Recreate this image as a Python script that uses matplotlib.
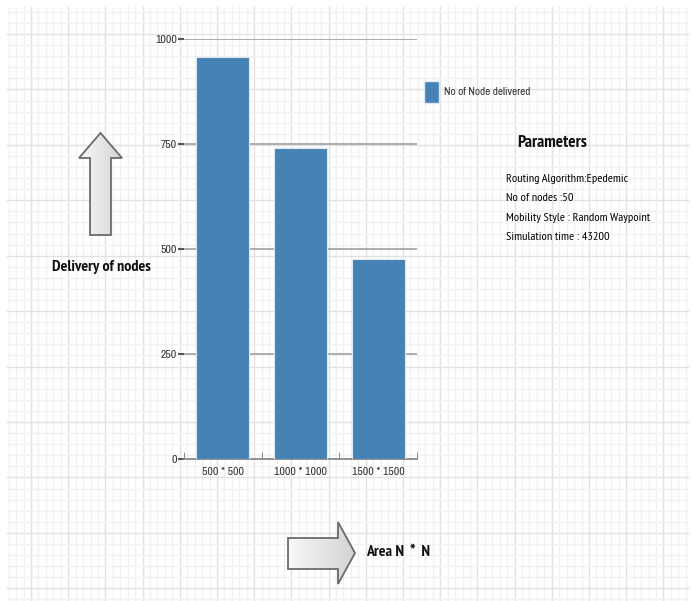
import matplotlib
matplotlib.use('Agg')
import matplotlib.pyplot as plt
from matplotlib.patches import Polygon, Patch
from matplotlib.colors import LinearSegmentedColormap
import numpy as np

areas = ['500 * 500', '1000 * 1000', '1500 * 1500']
delivered = [958, 740, 477]
y_ticks = [0, 250, 500, 750, 1000]
legend_label = 'No of Node delivered'
params_title = 'Parameters'
params = ['Routing Algorithm:Epedemic', 'No of nodes :50',
          'Mobility Style : Random Waypoint', 'Simulation time : 43200']

plt.rcParams['font.family'] = ['Archivo Narrow', 'PT Sans Narrow', 'DejaVu Sans']
BOLD = ['PT Sans Narrow', 'DejaVu Sans']

W, H = 693, 601
fig = plt.figure(figsize=(W / 100, H / 100), dpi=100)

# background paper grid, in pixel coordinates
bg = fig.add_axes([0, 0, 1, 1], zorder=0)
for k in range(-3, 100):
    x = 31 + 7.44 * k
    if 7 <= x <= 688:
        c = '#e2e2e2' if k % 5 == 0 else '#f1f1f1'
        bg.plot([x, x], [7, H], color=c, lw=1, zorder=0)
for k in range(-3, 60):
    y = 34 + 11.086 * k
    if 7 <= y <= H:
        c = '#e2e2e2' if k % 5 == 0 else '#f1f1f1'
        bg.plot([7, 688], [y, y], color=c, lw=1, zorder=0)

grey_cmap = LinearSegmentedColormap.from_list('g', ['#f8f8f8', '#d4d4d4'])


def arrow(pts):
    poly = Polygon(pts, closed=True, facecolor='none', edgecolor='#6b6b6b', lw=1.3, zorder=3)
    bg.add_patch(poly)
    xs = [p[0] for p in pts]
    ys = [p[1] for p in pts]
    grad = np.linspace(0, 1, 100).reshape(1, -1)
    im = bg.imshow(grad, cmap=grey_cmap, extent=[min(xs), max(xs), max(ys), min(ys)],
                   aspect='auto', zorder=2)
    im.set_clip_path(poly)


arrow([(90, 235), (90, 158), (79, 158), (100.5, 133), (122, 158), (111, 158), (111, 235)])
arrow([(288, 538), (338, 538), (338, 522), (355, 553), (338, 584), (338, 569), (288, 569)])
bg.set_xlim(0, W)
bg.set_ylim(H, 0)
bg.axis('off')

fig.text(101 / W, 1 - 267 / H, 'Delivery of nodes', ha='center', va='center',
         fontsize=11.5, fontweight='bold', color='#111111', family=BOLD)
fig.text(366 / W, 1 - 552 / H, 'Area N  *  N', ha='left', va='center',
         fontsize=11.5, fontweight='bold', color='#111111', family=BOLD)

# main chart
ax = fig.add_axes([184 / W, 1 - 459 / H, (417 - 184) / W, (459 - 39) / H], zorder=5)
ax.patch.set_alpha(0)
x = np.arange(len(areas))
ax.bar(x, delivered, width=0.68, color='#4682b4', edgecolor='#dfe9f3', linewidth=0.8, zorder=3)
ax.set_xlim(-0.5, len(areas) - 0.5)
ax.set_ylim(0, 1000)
ax.set_yticks(y_ticks)
ax.set_yticklabels([str(v) for v in y_ticks], fontsize=8.5, color='#333333')
ax.set_xticks(x)
ax.set_xticklabels(areas, fontsize=8.5, color='#333333')
ax.set_xticks(np.arange(len(areas) + 1) - 0.5, minor=True)
ax.tick_params(axis='x', which='major', length=0, pad=6)
ax.tick_params(axis='x', which='minor', length=5, color='#777777', direction='in')
ax.tick_params(axis='y', length=4, color='#555555', width=1.5, pad=1)
for v in y_ticks[1:]:
    ax.axhline(v, color='#a6a6a6', lw=1.3, zorder=1)
for s in ['top', 'right', 'left']:
    ax.spines[s].set_visible(False)
ax.spines['bottom'].set_color('#888888')
ax.spines['bottom'].set_linewidth(1.3)

fig.legend(handles=[Patch(facecolor='#4682b4', edgecolor='#dfe9f3', label=legend_label)],
           loc='upper left', bbox_to_anchor=(424 / W, 1 - 81 / H), frameon=False,
           borderpad=0, borderaxespad=0,
           fontsize=8, handlelength=1.35, handleheight=2.67, handletextpad=0.45,
           labelcolor='#333333')

fig.text(552 / W, 1 - 143 / H, params_title, ha='center', va='center',
         fontsize=12.5, fontweight='bold', color='#111111', family=BOLD)
for i, line in enumerate(params):
    fig.text(506 / W, 1 - (179 + 19.3 * i) / H, line, ha='left', va='center',
             fontsize=8.8, color='#000000', family=BOLD)

fig.savefig('out.png', dpi=100)
